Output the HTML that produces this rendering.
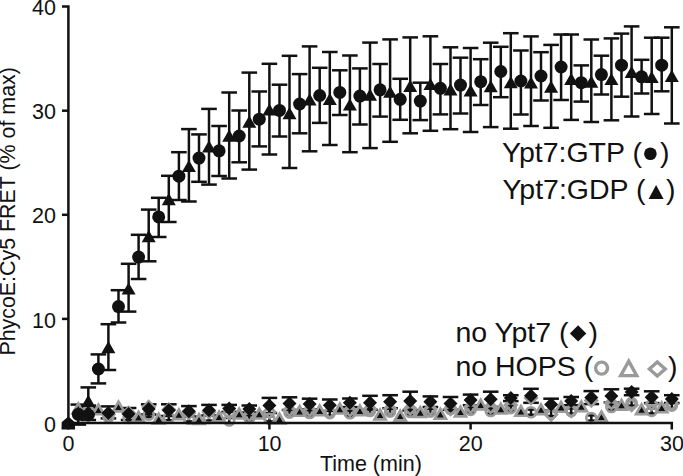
<!DOCTYPE html>
<html><head><meta charset="utf-8"><style>
html,body{margin:0;padding:0;background:#fff;}
svg{display:block;}
text{font-family:"Liberation Sans",sans-serif;fill:#111;}
</style></head><body>
<svg width="683" height="476" viewBox="0 0 683 476">
<rect width="683" height="476" fill="#fff"/>
<g stroke="#111" stroke-width="2.5" stroke-linecap="butt"><line x1="88.3" y1="412.4" x2="88.3" y2="417.6"/><line x1="84.7" y1="412.4" x2="91.9" y2="412.4"/><line x1="84.7" y1="417.6" x2="91.9" y2="417.6"/><line x1="108.4" y1="414.4" x2="108.4" y2="419.6"/><line x1="104.8" y1="414.4" x2="112.0" y2="414.4"/><line x1="104.8" y1="419.6" x2="112.0" y2="419.6"/><line x1="128.6" y1="415.4" x2="128.6" y2="420.6"/><line x1="125.0" y1="415.4" x2="132.2" y2="415.4"/><line x1="125.0" y1="420.6" x2="132.2" y2="420.6"/><line x1="148.7" y1="412.1" x2="148.7" y2="417.3"/><line x1="145.1" y1="412.1" x2="152.3" y2="412.1"/><line x1="145.1" y1="417.3" x2="152.3" y2="417.3"/><line x1="168.8" y1="415.0" x2="168.8" y2="420.2"/><line x1="165.2" y1="415.0" x2="172.4" y2="415.0"/><line x1="165.2" y1="420.2" x2="172.4" y2="420.2"/><line x1="188.9" y1="416.2" x2="188.9" y2="421.4"/><line x1="185.3" y1="416.2" x2="192.5" y2="416.2"/><line x1="185.3" y1="421.4" x2="192.5" y2="421.4"/><line x1="209.0" y1="415.4" x2="209.0" y2="420.6"/><line x1="205.4" y1="415.4" x2="212.6" y2="415.4"/><line x1="205.4" y1="420.6" x2="212.6" y2="420.6"/><line x1="229.2" y1="417.9" x2="229.2" y2="423.1"/><line x1="225.6" y1="417.9" x2="232.8" y2="417.9"/><line x1="225.6" y1="423.1" x2="232.8" y2="423.1"/><line x1="249.3" y1="415.4" x2="249.3" y2="420.6"/><line x1="245.7" y1="415.4" x2="252.9" y2="415.4"/><line x1="245.7" y1="420.6" x2="252.9" y2="420.6"/><line x1="269.4" y1="416.2" x2="269.4" y2="421.4"/><line x1="265.8" y1="416.2" x2="273.0" y2="416.2"/><line x1="265.8" y1="421.4" x2="273.0" y2="421.4"/><line x1="289.5" y1="410.0" x2="289.5" y2="415.2"/><line x1="285.9" y1="410.0" x2="293.1" y2="410.0"/><line x1="285.9" y1="415.2" x2="293.1" y2="415.2"/><line x1="309.6" y1="410.4" x2="309.6" y2="415.6"/><line x1="306.0" y1="410.4" x2="313.2" y2="410.4"/><line x1="306.0" y1="415.6" x2="313.2" y2="415.6"/><line x1="329.8" y1="410.4" x2="329.8" y2="415.6"/><line x1="326.2" y1="410.4" x2="333.4" y2="410.4"/><line x1="326.2" y1="415.6" x2="333.4" y2="415.6"/><line x1="349.9" y1="410.6" x2="349.9" y2="415.8"/><line x1="346.3" y1="410.6" x2="353.5" y2="410.6"/><line x1="346.3" y1="415.8" x2="353.5" y2="415.8"/><line x1="370.0" y1="408.4" x2="370.0" y2="413.6"/><line x1="366.4" y1="408.4" x2="373.6" y2="408.4"/><line x1="366.4" y1="413.6" x2="373.6" y2="413.6"/><line x1="390.1" y1="409.0" x2="390.1" y2="414.2"/><line x1="386.5" y1="409.0" x2="393.7" y2="409.0"/><line x1="386.5" y1="414.2" x2="393.7" y2="414.2"/><line x1="410.2" y1="409.4" x2="410.2" y2="414.6"/><line x1="406.6" y1="409.4" x2="413.8" y2="409.4"/><line x1="406.6" y1="414.6" x2="413.8" y2="414.6"/><line x1="430.4" y1="409.0" x2="430.4" y2="414.2"/><line x1="426.8" y1="409.0" x2="434.0" y2="409.0"/><line x1="426.8" y1="414.2" x2="434.0" y2="414.2"/><line x1="450.5" y1="406.4" x2="450.5" y2="411.6"/><line x1="446.9" y1="406.4" x2="454.1" y2="406.4"/><line x1="446.9" y1="411.6" x2="454.1" y2="411.6"/><line x1="470.6" y1="407.3" x2="470.6" y2="412.5"/><line x1="467.0" y1="407.3" x2="474.2" y2="407.3"/><line x1="467.0" y1="412.5" x2="474.2" y2="412.5"/><line x1="490.7" y1="408.4" x2="490.7" y2="413.6"/><line x1="487.1" y1="408.4" x2="494.3" y2="408.4"/><line x1="487.1" y1="413.6" x2="494.3" y2="413.6"/><line x1="510.8" y1="405.5" x2="510.8" y2="410.7"/><line x1="507.2" y1="405.5" x2="514.4" y2="405.5"/><line x1="507.2" y1="410.7" x2="514.4" y2="410.7"/><line x1="531.0" y1="409.6" x2="531.0" y2="414.8"/><line x1="527.4" y1="409.6" x2="534.6" y2="409.6"/><line x1="527.4" y1="414.8" x2="534.6" y2="414.8"/><line x1="551.1" y1="410.8" x2="551.1" y2="416.0"/><line x1="547.5" y1="410.8" x2="554.7" y2="410.8"/><line x1="547.5" y1="416.0" x2="554.7" y2="416.0"/><line x1="571.2" y1="408.4" x2="571.2" y2="413.6"/><line x1="567.6" y1="408.4" x2="574.8" y2="408.4"/><line x1="567.6" y1="413.6" x2="574.8" y2="413.6"/><line x1="591.3" y1="415.4" x2="591.3" y2="420.6"/><line x1="587.7" y1="415.4" x2="594.9" y2="415.4"/><line x1="587.7" y1="420.6" x2="594.9" y2="420.6"/><line x1="611.4" y1="404.4" x2="611.4" y2="409.6"/><line x1="607.8" y1="404.4" x2="615.0" y2="404.4"/><line x1="607.8" y1="409.6" x2="615.0" y2="409.6"/><line x1="631.6" y1="400.4" x2="631.6" y2="405.6"/><line x1="628.0" y1="400.4" x2="635.2" y2="400.4"/><line x1="628.0" y1="405.6" x2="635.2" y2="405.6"/><line x1="651.7" y1="408.3" x2="651.7" y2="413.5"/><line x1="648.1" y1="408.3" x2="655.3" y2="408.3"/><line x1="648.1" y1="413.5" x2="655.3" y2="413.5"/><line x1="671.8" y1="403.0" x2="671.8" y2="408.2"/><line x1="668.2" y1="403.0" x2="675.4" y2="403.0"/><line x1="668.2" y1="408.2" x2="675.4" y2="408.2"/><polygon fill="#111" stroke="none" points="78.3,405.4 82.7,412.8 73.9,412.8"/><polygon fill="#111" stroke="none" points="98.4,406.5 102.8,413.9 94.0,413.9"/><polygon fill="#111" stroke="none" points="118.5,403.6 122.9,411.0 114.1,411.0"/><polygon fill="#111" stroke="none" points="138.6,413.9 143.0,421.3 134.2,421.3"/><polygon fill="#111" stroke="none" points="158.7,415.6 163.1,423.0 154.3,423.0"/><polygon fill="#111" stroke="none" points="178.9,411.3 183.3,418.7 174.5,418.7"/><polygon fill="#111" stroke="none" points="199.0,416.1 203.4,423.5 194.6,423.5"/><polygon fill="#111" stroke="none" points="219.1,413.6 223.5,421.0 214.7,421.0"/><polygon fill="#111" stroke="none" points="239.2,410.7 243.6,418.1 234.8,418.1"/><polygon fill="#111" stroke="none" points="259.3,410.7 263.7,418.1 254.9,418.1"/><polygon fill="#111" stroke="none" points="279.5,415.6 283.9,423.0 275.1,423.0"/><polygon fill="#111" stroke="none" points="299.6,408.0 304.0,415.4 295.2,415.4"/><polygon fill="#111" stroke="none" points="319.7,407.4 324.1,414.8 315.3,414.8"/><polygon fill="#111" stroke="none" points="339.8,405.7 344.2,413.1 335.4,413.1"/><polygon fill="#111" stroke="none" points="359.9,407.4 364.3,414.8 355.5,414.8"/><polygon fill="#111" stroke="none" points="380.1,411.6 384.5,419.0 375.7,419.0"/><polygon fill="#111" stroke="none" points="400.2,412.6 404.6,420.0 395.8,420.0"/><polygon fill="#111" stroke="none" points="420.3,409.2 424.7,416.6 415.9,416.6"/><polygon fill="#111" stroke="none" points="440.4,410.9 444.8,418.3 436.0,418.3"/><polygon fill="#111" stroke="none" points="460.5,408.6 464.9,416.0 456.1,416.0"/><polygon fill="#111" stroke="none" points="480.7,401.6 485.1,409.0 476.3,409.0"/><polygon fill="#111" stroke="none" points="500.8,405.7 505.2,413.1 496.4,413.1"/><polygon fill="#111" stroke="none" points="520.9,408.0 525.3,415.4 516.5,415.4"/><polygon fill="#111" stroke="none" points="541.0,406.3 545.4,413.7 536.6,413.7"/><polygon fill="#111" stroke="none" points="561.1,403.9 565.5,411.3 556.7,411.3"/><polygon fill="#111" stroke="none" points="581.3,403.3 585.7,410.7 576.9,410.7"/><polygon fill="#111" stroke="none" points="601.4,413.5 605.8,420.9 597.0,420.9"/><polygon fill="#111" stroke="none" points="621.5,401.8 625.9,409.2 617.1,409.2"/><polygon fill="#111" stroke="none" points="641.6,406.3 646.0,413.7 637.2,413.7"/><polygon fill="#111" stroke="none" points="661.7,404.4 666.1,411.8 657.3,411.8"/><line x1="88.3" y1="408.0" x2="88.3" y2="420.0"/><line x1="80.5" y1="408.0" x2="96.1" y2="408.0"/><line x1="80.5" y1="420.0" x2="96.1" y2="420.0"/><line x1="108.4" y1="406.4" x2="108.4" y2="418.4"/><line x1="100.6" y1="406.4" x2="116.2" y2="406.4"/><line x1="100.6" y1="418.4" x2="116.2" y2="418.4"/><line x1="128.6" y1="408.0" x2="128.6" y2="420.0"/><line x1="120.8" y1="408.0" x2="136.4" y2="408.0"/><line x1="120.8" y1="420.0" x2="136.4" y2="420.0"/><line x1="148.7" y1="404.3" x2="148.7" y2="414.5"/><line x1="140.9" y1="404.3" x2="156.5" y2="404.3"/><line x1="140.9" y1="414.5" x2="156.5" y2="414.5"/><line x1="168.8" y1="404.3" x2="168.8" y2="416.0"/><line x1="161.0" y1="404.3" x2="176.6" y2="404.3"/><line x1="161.0" y1="416.0" x2="176.6" y2="416.0"/><line x1="188.9" y1="406.1" x2="188.9" y2="416.5"/><line x1="181.1" y1="406.1" x2="196.7" y2="406.1"/><line x1="181.1" y1="416.5" x2="196.7" y2="416.5"/><line x1="209.0" y1="404.9" x2="209.0" y2="415.5"/><line x1="201.2" y1="404.9" x2="216.8" y2="404.9"/><line x1="201.2" y1="415.5" x2="216.8" y2="415.5"/><line x1="229.2" y1="404.9" x2="229.2" y2="411.9"/><line x1="221.4" y1="404.9" x2="237.0" y2="404.9"/><line x1="221.4" y1="411.9" x2="237.0" y2="411.9"/><line x1="249.3" y1="405.5" x2="249.3" y2="412.5"/><line x1="241.5" y1="405.5" x2="257.1" y2="405.5"/><line x1="241.5" y1="412.5" x2="257.1" y2="412.5"/><line x1="269.4" y1="397.9" x2="269.4" y2="413.0"/><line x1="261.6" y1="397.9" x2="277.2" y2="397.9"/><line x1="261.6" y1="413.0" x2="277.2" y2="413.0"/><line x1="289.5" y1="397.3" x2="289.5" y2="410.0"/><line x1="281.7" y1="397.3" x2="297.3" y2="397.3"/><line x1="281.7" y1="410.0" x2="297.3" y2="410.0"/><line x1="309.6" y1="398.7" x2="309.6" y2="409.3"/><line x1="301.8" y1="398.7" x2="317.4" y2="398.7"/><line x1="301.8" y1="409.3" x2="317.4" y2="409.3"/><line x1="329.8" y1="399.5" x2="329.8" y2="411.0"/><line x1="322.0" y1="399.5" x2="337.6" y2="399.5"/><line x1="322.0" y1="411.0" x2="337.6" y2="411.0"/><line x1="349.9" y1="398.5" x2="349.9" y2="407.1"/><line x1="342.1" y1="398.5" x2="357.7" y2="398.5"/><line x1="342.1" y1="407.1" x2="357.7" y2="407.1"/><line x1="370.0" y1="395.8" x2="370.0" y2="409.8"/><line x1="362.2" y1="395.8" x2="377.8" y2="395.8"/><line x1="362.2" y1="409.8" x2="377.8" y2="409.8"/><line x1="390.1" y1="395.2" x2="390.1" y2="408.2"/><line x1="382.3" y1="395.2" x2="397.9" y2="395.2"/><line x1="382.3" y1="408.2" x2="397.9" y2="408.2"/><line x1="410.2" y1="391.7" x2="410.2" y2="410.5"/><line x1="402.4" y1="391.7" x2="418.0" y2="391.7"/><line x1="402.4" y1="410.5" x2="418.0" y2="410.5"/><line x1="430.4" y1="396.4" x2="430.4" y2="407.0"/><line x1="422.6" y1="396.4" x2="438.2" y2="396.4"/><line x1="422.6" y1="407.0" x2="438.2" y2="407.0"/><line x1="450.5" y1="397.0" x2="450.5" y2="409.8"/><line x1="442.7" y1="397.0" x2="458.3" y2="397.0"/><line x1="442.7" y1="409.8" x2="458.3" y2="409.8"/><line x1="470.6" y1="394.6" x2="470.6" y2="405.2"/><line x1="462.8" y1="394.6" x2="478.4" y2="394.6"/><line x1="462.8" y1="405.2" x2="478.4" y2="405.2"/><line x1="490.7" y1="391.7" x2="490.7" y2="406.9"/><line x1="482.9" y1="391.7" x2="498.5" y2="391.7"/><line x1="482.9" y1="406.9" x2="498.5" y2="406.9"/><line x1="510.8" y1="395.2" x2="510.8" y2="401.1"/><line x1="503.0" y1="395.2" x2="518.6" y2="395.2"/><line x1="503.0" y1="401.1" x2="518.6" y2="401.1"/><line x1="531.0" y1="388.8" x2="531.0" y2="402.8"/><line x1="523.2" y1="388.8" x2="538.8" y2="388.8"/><line x1="523.2" y1="402.8" x2="538.8" y2="402.8"/><line x1="551.1" y1="398.7" x2="551.1" y2="410.5"/><line x1="543.3" y1="398.7" x2="558.9" y2="398.7"/><line x1="543.3" y1="410.5" x2="558.9" y2="410.5"/><line x1="571.2" y1="397.0" x2="571.2" y2="405.2"/><line x1="563.4" y1="397.0" x2="579.0" y2="397.0"/><line x1="563.4" y1="405.2" x2="579.0" y2="405.2"/><line x1="591.3" y1="391.1" x2="591.3" y2="404.1"/><line x1="583.5" y1="391.1" x2="599.1" y2="391.1"/><line x1="583.5" y1="404.1" x2="599.1" y2="404.1"/><line x1="611.4" y1="389.3" x2="611.4" y2="402.5"/><line x1="603.6" y1="389.3" x2="619.2" y2="389.3"/><line x1="603.6" y1="402.5" x2="619.2" y2="402.5"/><line x1="631.6" y1="388.7" x2="631.6" y2="395.2"/><line x1="623.8" y1="388.7" x2="639.4" y2="388.7"/><line x1="623.8" y1="395.2" x2="639.4" y2="395.2"/><line x1="651.7" y1="391.3" x2="651.7" y2="403.1"/><line x1="643.9" y1="391.3" x2="659.5" y2="391.3"/><line x1="643.9" y1="403.1" x2="659.5" y2="403.1"/><line x1="671.8" y1="395.2" x2="671.8" y2="403.0"/><line x1="664.0" y1="395.2" x2="679.6" y2="395.2"/><line x1="664.0" y1="403.0" x2="679.6" y2="403.0"/><line x1="78.3" y1="404.6" x2="78.3" y2="424.6"/><line x1="70.5" y1="404.6" x2="86.1" y2="404.6"/><line x1="70.5" y1="424.6" x2="86.1" y2="424.6"/><line x1="98.4" y1="354.4" x2="98.4" y2="383.4"/><line x1="90.6" y1="354.4" x2="106.2" y2="354.4"/><line x1="90.6" y1="383.4" x2="106.2" y2="383.4"/><line x1="118.5" y1="290.2" x2="118.5" y2="322.5"/><line x1="110.7" y1="290.2" x2="126.3" y2="290.2"/><line x1="110.7" y1="322.5" x2="126.3" y2="322.5"/><line x1="138.6" y1="234.8" x2="138.6" y2="279.0"/><line x1="130.8" y1="234.8" x2="146.4" y2="234.8"/><line x1="130.8" y1="279.0" x2="146.4" y2="279.0"/><line x1="158.7" y1="197.8" x2="158.7" y2="237.0"/><line x1="150.9" y1="197.8" x2="166.5" y2="197.8"/><line x1="150.9" y1="237.0" x2="166.5" y2="237.0"/><line x1="178.9" y1="152.2" x2="178.9" y2="200.0"/><line x1="171.1" y1="152.2" x2="186.7" y2="152.2"/><line x1="171.1" y1="200.0" x2="186.7" y2="200.0"/><line x1="199.0" y1="134.4" x2="199.0" y2="181.8"/><line x1="191.2" y1="134.4" x2="206.8" y2="134.4"/><line x1="191.2" y1="181.8" x2="206.8" y2="181.8"/><line x1="219.1" y1="126.0" x2="219.1" y2="176.0"/><line x1="211.3" y1="126.0" x2="226.9" y2="126.0"/><line x1="211.3" y1="176.0" x2="226.9" y2="176.0"/><line x1="239.2" y1="110.5" x2="239.2" y2="162.3"/><line x1="231.4" y1="110.5" x2="247.0" y2="110.5"/><line x1="231.4" y1="162.3" x2="247.0" y2="162.3"/><line x1="259.3" y1="91.5" x2="259.3" y2="146.4"/><line x1="251.5" y1="91.5" x2="267.1" y2="91.5"/><line x1="251.5" y1="146.4" x2="267.1" y2="146.4"/><line x1="279.5" y1="84.7" x2="279.5" y2="136.5"/><line x1="271.7" y1="84.7" x2="287.3" y2="84.7"/><line x1="271.7" y1="136.5" x2="287.3" y2="136.5"/><line x1="299.6" y1="74.1" x2="299.6" y2="133.3"/><line x1="291.8" y1="74.1" x2="307.4" y2="74.1"/><line x1="291.8" y1="133.3" x2="307.4" y2="133.3"/><line x1="319.7" y1="67.8" x2="319.7" y2="122.9"/><line x1="311.9" y1="67.8" x2="327.5" y2="67.8"/><line x1="311.9" y1="122.9" x2="327.5" y2="122.9"/><line x1="339.8" y1="70.3" x2="339.8" y2="115.0"/><line x1="332.0" y1="70.3" x2="347.6" y2="70.3"/><line x1="332.0" y1="115.0" x2="347.6" y2="115.0"/><line x1="359.9" y1="68.4" x2="359.9" y2="124.5"/><line x1="352.1" y1="68.4" x2="367.7" y2="68.4"/><line x1="352.1" y1="124.5" x2="367.7" y2="124.5"/><line x1="380.1" y1="64.0" x2="380.1" y2="116.6"/><line x1="372.3" y1="64.0" x2="387.9" y2="64.0"/><line x1="372.3" y1="116.6" x2="387.9" y2="116.6"/><line x1="400.2" y1="78.8" x2="400.2" y2="119.8"/><line x1="392.4" y1="78.8" x2="408.0" y2="78.8"/><line x1="392.4" y1="119.8" x2="408.0" y2="119.8"/><line x1="420.3" y1="82.7" x2="420.3" y2="120.1"/><line x1="412.5" y1="82.7" x2="428.1" y2="82.7"/><line x1="412.5" y1="120.1" x2="428.1" y2="120.1"/><line x1="440.4" y1="64.0" x2="440.4" y2="114.4"/><line x1="432.6" y1="64.0" x2="448.2" y2="64.0"/><line x1="432.6" y1="114.4" x2="448.2" y2="114.4"/><line x1="460.5" y1="57.7" x2="460.5" y2="113.5"/><line x1="452.7" y1="57.7" x2="468.3" y2="57.7"/><line x1="452.7" y1="113.5" x2="468.3" y2="113.5"/><line x1="480.7" y1="59.2" x2="480.7" y2="105.0"/><line x1="472.9" y1="59.2" x2="488.5" y2="59.2"/><line x1="472.9" y1="105.0" x2="488.5" y2="105.0"/><line x1="500.8" y1="46.8" x2="500.8" y2="97.2"/><line x1="493.0" y1="46.8" x2="508.6" y2="46.8"/><line x1="493.0" y1="97.2" x2="508.6" y2="97.2"/><line x1="520.9" y1="50.5" x2="520.9" y2="114.5"/><line x1="513.1" y1="50.5" x2="528.7" y2="50.5"/><line x1="513.1" y1="114.5" x2="528.7" y2="114.5"/><line x1="541.0" y1="52.2" x2="541.0" y2="100.5"/><line x1="533.2" y1="52.2" x2="548.8" y2="52.2"/><line x1="533.2" y1="100.5" x2="548.8" y2="100.5"/><line x1="561.1" y1="34.5" x2="561.1" y2="100.0"/><line x1="553.3" y1="34.5" x2="568.9" y2="34.5"/><line x1="553.3" y1="100.0" x2="568.9" y2="100.0"/><line x1="581.3" y1="65.4" x2="581.3" y2="101.6"/><line x1="573.5" y1="65.4" x2="589.1" y2="65.4"/><line x1="573.5" y1="101.6" x2="589.1" y2="101.6"/><line x1="601.4" y1="55.7" x2="601.4" y2="94.5"/><line x1="593.6" y1="55.7" x2="609.2" y2="55.7"/><line x1="593.6" y1="94.5" x2="609.2" y2="94.5"/><line x1="621.5" y1="33.6" x2="621.5" y2="96.7"/><line x1="613.7" y1="33.6" x2="629.3" y2="33.6"/><line x1="613.7" y1="96.7" x2="629.3" y2="96.7"/><line x1="641.6" y1="59.8" x2="641.6" y2="93.5"/><line x1="633.8" y1="59.8" x2="649.4" y2="59.8"/><line x1="633.8" y1="93.5" x2="649.4" y2="93.5"/><line x1="661.7" y1="37.7" x2="661.7" y2="91.3"/><line x1="653.9" y1="37.7" x2="669.5" y2="37.7"/><line x1="653.9" y1="91.3" x2="669.5" y2="91.3"/><line x1="88.3" y1="387.4" x2="88.3" y2="405.6"/><line x1="80.5" y1="387.4" x2="96.1" y2="387.4"/><line x1="80.5" y1="405.6" x2="96.1" y2="405.6"/><line x1="108.4" y1="324.2" x2="108.4" y2="370.0"/><line x1="100.6" y1="324.2" x2="116.2" y2="324.2"/><line x1="100.6" y1="370.0" x2="116.2" y2="370.0"/><line x1="128.6" y1="263.8" x2="128.6" y2="311.6"/><line x1="120.8" y1="263.8" x2="136.4" y2="263.8"/><line x1="120.8" y1="311.6" x2="136.4" y2="311.6"/><line x1="148.7" y1="209.6" x2="148.7" y2="261.3"/><line x1="140.9" y1="209.6" x2="156.5" y2="209.6"/><line x1="140.9" y1="261.3" x2="156.5" y2="261.3"/><line x1="168.8" y1="175.8" x2="168.8" y2="222.0"/><line x1="161.0" y1="175.8" x2="176.6" y2="175.8"/><line x1="161.0" y1="222.0" x2="176.6" y2="222.0"/><line x1="188.9" y1="129.1" x2="188.9" y2="201.5"/><line x1="181.1" y1="129.1" x2="196.7" y2="129.1"/><line x1="181.1" y1="201.5" x2="196.7" y2="201.5"/><line x1="209.0" y1="108.9" x2="209.0" y2="184.6"/><line x1="201.2" y1="108.9" x2="216.8" y2="108.9"/><line x1="201.2" y1="184.6" x2="216.8" y2="184.6"/><line x1="229.2" y1="92.5" x2="229.2" y2="178.5"/><line x1="221.4" y1="92.5" x2="237.0" y2="92.5"/><line x1="221.4" y1="178.5" x2="237.0" y2="178.5"/><line x1="249.3" y1="72.6" x2="249.3" y2="169.6"/><line x1="241.5" y1="72.6" x2="257.1" y2="72.6"/><line x1="241.5" y1="169.6" x2="257.1" y2="169.6"/><line x1="269.4" y1="63.8" x2="269.4" y2="154.5"/><line x1="261.6" y1="63.8" x2="277.2" y2="63.8"/><line x1="261.6" y1="154.5" x2="277.2" y2="154.5"/><line x1="289.5" y1="55.8" x2="289.5" y2="168.0"/><line x1="281.7" y1="55.8" x2="297.3" y2="55.8"/><line x1="281.7" y1="168.0" x2="297.3" y2="168.0"/><line x1="309.6" y1="46.4" x2="309.6" y2="151.3"/><line x1="301.8" y1="46.4" x2="317.4" y2="46.4"/><line x1="301.8" y1="151.3" x2="317.4" y2="151.3"/><line x1="329.8" y1="52.0" x2="329.8" y2="145.0"/><line x1="322.0" y1="52.0" x2="337.6" y2="52.0"/><line x1="322.0" y1="145.0" x2="337.6" y2="145.0"/><line x1="349.9" y1="55.5" x2="349.9" y2="152.2"/><line x1="342.1" y1="55.5" x2="357.7" y2="55.5"/><line x1="342.1" y1="152.2" x2="357.7" y2="152.2"/><line x1="370.0" y1="42.6" x2="370.0" y2="148.1"/><line x1="362.2" y1="42.6" x2="377.8" y2="42.6"/><line x1="362.2" y1="148.1" x2="377.8" y2="148.1"/><line x1="390.1" y1="39.4" x2="390.1" y2="141.8"/><line x1="382.3" y1="39.4" x2="397.9" y2="39.4"/><line x1="382.3" y1="141.8" x2="397.9" y2="141.8"/><line x1="410.2" y1="37.4" x2="410.2" y2="133.3"/><line x1="402.4" y1="37.4" x2="418.0" y2="37.4"/><line x1="402.4" y1="133.3" x2="418.0" y2="133.3"/><line x1="430.4" y1="36.3" x2="430.4" y2="130.8"/><line x1="422.6" y1="36.3" x2="438.2" y2="36.3"/><line x1="422.6" y1="130.8" x2="438.2" y2="130.8"/><line x1="450.5" y1="47.3" x2="450.5" y2="129.2"/><line x1="442.7" y1="47.3" x2="458.3" y2="47.3"/><line x1="442.7" y1="129.2" x2="458.3" y2="129.2"/><line x1="470.6" y1="48.0" x2="470.6" y2="132.0"/><line x1="462.8" y1="48.0" x2="478.4" y2="48.0"/><line x1="462.8" y1="132.0" x2="478.4" y2="132.0"/><line x1="490.7" y1="42.7" x2="490.7" y2="127.1"/><line x1="482.9" y1="42.7" x2="498.5" y2="42.7"/><line x1="482.9" y1="127.1" x2="498.5" y2="127.1"/><line x1="510.8" y1="33.2" x2="510.8" y2="128.7"/><line x1="503.0" y1="33.2" x2="518.6" y2="33.2"/><line x1="503.0" y1="128.7" x2="518.6" y2="128.7"/><line x1="531.0" y1="36.4" x2="531.0" y2="126.0"/><line x1="523.2" y1="36.4" x2="538.8" y2="36.4"/><line x1="523.2" y1="126.0" x2="538.8" y2="126.0"/><line x1="551.1" y1="44.9" x2="551.1" y2="127.8"/><line x1="543.3" y1="44.9" x2="558.9" y2="44.9"/><line x1="543.3" y1="127.8" x2="558.9" y2="127.8"/><line x1="571.2" y1="34.5" x2="571.2" y2="119.9"/><line x1="563.4" y1="34.5" x2="579.0" y2="34.5"/><line x1="563.4" y1="119.9" x2="579.0" y2="119.9"/><line x1="591.3" y1="39.5" x2="591.3" y2="122.0"/><line x1="583.5" y1="39.5" x2="599.1" y2="39.5"/><line x1="583.5" y1="122.0" x2="599.1" y2="122.0"/><line x1="611.4" y1="38.4" x2="611.4" y2="120.3"/><line x1="603.6" y1="38.4" x2="619.2" y2="38.4"/><line x1="603.6" y1="120.3" x2="619.2" y2="120.3"/><line x1="631.6" y1="26.4" x2="631.6" y2="116.5"/><line x1="623.8" y1="26.4" x2="639.4" y2="26.4"/><line x1="623.8" y1="116.5" x2="639.4" y2="116.5"/><line x1="651.7" y1="37.7" x2="651.7" y2="114.0"/><line x1="643.9" y1="37.7" x2="659.5" y2="37.7"/><line x1="643.9" y1="114.0" x2="659.5" y2="114.0"/><line x1="671.8" y1="27.3" x2="671.8" y2="123.5"/><line x1="664.0" y1="27.3" x2="679.6" y2="27.3"/><line x1="664.0" y1="123.5" x2="679.6" y2="123.5"/></g>
<g fill="none" stroke="#9a9a9a" stroke-width="2.6"><circle cx="88.3" cy="415.0" r="5.0"/><circle cx="108.4" cy="417.0" r="5.0"/><circle cx="128.6" cy="418.0" r="5.0"/><circle cx="148.7" cy="414.7" r="5.0"/><circle cx="168.8" cy="417.6" r="5.0"/><circle cx="188.9" cy="418.8" r="5.0"/><circle cx="209.0" cy="418.0" r="5.0"/><circle cx="229.2" cy="420.5" r="5.0"/><circle cx="249.3" cy="418.0" r="5.0"/><circle cx="269.4" cy="418.8" r="5.0"/><circle cx="289.5" cy="412.6" r="5.0"/><circle cx="309.6" cy="413.0" r="5.0"/><circle cx="329.8" cy="413.0" r="5.0"/><circle cx="349.9" cy="413.2" r="5.0"/><circle cx="370.0" cy="411.0" r="5.0"/><circle cx="390.1" cy="411.6" r="5.0"/><circle cx="410.2" cy="412.0" r="5.0"/><circle cx="430.4" cy="411.6" r="5.0"/><circle cx="450.5" cy="409.0" r="5.0"/><circle cx="470.6" cy="409.9" r="5.0"/><circle cx="490.7" cy="411.0" r="5.0"/><circle cx="510.8" cy="408.1" r="5.0"/><circle cx="531.0" cy="412.2" r="5.0"/><circle cx="551.1" cy="413.4" r="5.0"/><circle cx="571.2" cy="411.0" r="5.0"/><circle cx="591.3" cy="418.0" r="5.0"/><circle cx="611.4" cy="407.0" r="5.0"/><circle cx="631.6" cy="403.0" r="5.0"/><circle cx="651.7" cy="410.9" r="5.0"/><circle cx="671.8" cy="405.6" r="5.0"/><polygon points="78.3,403.4 83.9,413.2 72.7,413.2"/><polygon points="98.4,404.5 104.0,414.3 92.8,414.3"/><polygon points="118.5,401.6 124.1,411.4 112.9,411.4"/><polygon points="138.6,411.9 144.2,421.7 133.0,421.7"/><polygon points="158.7,413.6 164.3,423.4 153.1,423.4"/><polygon points="178.9,409.3 184.5,419.1 173.3,419.1"/><polygon points="199.0,414.1 204.6,423.9 193.4,423.9"/><polygon points="219.1,411.6 224.7,421.4 213.5,421.4"/><polygon points="239.2,408.7 244.8,418.5 233.6,418.5"/><polygon points="259.3,408.7 264.9,418.5 253.7,418.5"/><polygon points="279.5,413.6 285.1,423.4 273.9,423.4"/><polygon points="299.6,406.0 305.2,415.8 294.0,415.8"/><polygon points="319.7,405.4 325.3,415.2 314.1,415.2"/><polygon points="339.8,403.7 345.4,413.5 334.2,413.5"/><polygon points="359.9,405.4 365.5,415.2 354.3,415.2"/><polygon points="380.1,409.6 385.7,419.4 374.5,419.4"/><polygon points="400.2,410.6 405.8,420.4 394.6,420.4"/><polygon points="420.3,407.2 425.9,417.0 414.7,417.0"/><polygon points="440.4,408.9 446.0,418.7 434.8,418.7"/><polygon points="460.5,406.6 466.1,416.4 454.9,416.4"/><polygon points="480.7,399.6 486.3,409.4 475.1,409.4"/><polygon points="500.8,403.7 506.4,413.5 495.2,413.5"/><polygon points="520.9,406.0 526.5,415.8 515.3,415.8"/><polygon points="541.0,404.3 546.6,414.1 535.4,414.1"/><polygon points="561.1,401.9 566.7,411.7 555.5,411.7"/><polygon points="581.3,401.3 586.9,411.1 575.7,411.1"/><polygon points="601.4,411.5 607.0,421.3 595.8,421.3"/><polygon points="621.5,399.8 627.1,409.6 615.9,409.6"/><polygon points="641.6,404.3 647.2,414.1 636.0,414.1"/><polygon points="661.7,402.4 667.3,412.2 656.1,412.2"/><polygon points="88.3,404.2 94.1,410.0 88.3,415.8 82.5,410.0"/><polygon points="108.4,408.7 114.2,414.5 108.4,420.3 102.6,414.5"/><polygon points="128.6,407.2 134.4,413.0 128.6,418.8 122.8,413.0"/><polygon points="148.7,401.2 154.5,407.0 148.7,412.8 142.9,407.0"/><polygon points="168.8,403.8 174.6,409.6 168.8,415.4 163.0,409.6"/><polygon points="188.9,407.2 194.7,413.0 188.9,418.8 183.1,413.0"/><polygon points="209.0,406.2 214.8,412.0 209.0,417.8 203.2,412.0"/><polygon points="229.2,407.2 235.0,413.0 229.2,418.8 223.4,413.0"/><polygon points="249.3,409.2 255.1,415.0 249.3,420.8 243.5,415.0"/><polygon points="269.4,406.2 275.2,412.0 269.4,417.8 263.6,412.0"/><polygon points="289.5,404.2 295.3,410.0 289.5,415.8 283.7,410.0"/><polygon points="309.6,404.2 315.4,410.0 309.6,415.8 303.8,410.0"/><polygon points="329.8,406.4 335.6,412.2 329.8,418.0 324.0,412.2"/><polygon points="349.9,404.2 355.7,410.0 349.9,415.8 344.1,410.0"/><polygon points="370.0,403.2 375.8,409.0 370.0,414.8 364.2,409.0"/><polygon points="390.1,403.2 395.9,409.0 390.1,414.8 384.3,409.0"/><polygon points="410.2,402.9 416.0,408.7 410.2,414.5 404.4,408.7"/><polygon points="430.4,403.2 436.2,409.0 430.4,414.8 424.6,409.0"/><polygon points="450.5,403.2 456.3,409.0 450.5,414.8 444.7,409.0"/><polygon points="470.6,401.2 476.4,407.0 470.6,412.8 464.8,407.0"/><polygon points="490.7,401.2 496.5,407.0 490.7,412.8 484.9,407.0"/><polygon points="510.8,399.2 516.6,405.0 510.8,410.8 505.0,405.0"/><polygon points="531.0,392.2 536.8,398.0 531.0,403.8 525.2,398.0"/><polygon points="551.1,408.8 556.9,414.6 551.1,420.4 545.3,414.6"/><polygon points="571.2,405.2 577.0,411.0 571.2,416.8 565.4,411.0"/><polygon points="591.3,394.7 597.1,400.5 591.3,406.3 585.5,400.5"/><polygon points="611.4,397.2 617.2,403.0 611.4,408.8 605.6,403.0"/><polygon points="631.6,399.2 637.4,405.0 631.6,410.8 625.8,405.0"/><polygon points="651.7,398.2 657.5,404.0 651.7,409.8 645.9,404.0"/><polygon points="671.8,398.2 677.6,404.0 671.8,409.8 666.0,404.0"/></g>
<g fill="#111"><polygon points="88.3,407.0 95.3,414.0 88.3,421.0 81.3,414.0"/><polygon points="108.4,406.0 115.4,413.0 108.4,420.0 101.4,413.0"/><polygon points="128.6,407.0 135.6,414.0 128.6,421.0 121.6,414.0"/><polygon points="148.7,402.0 155.7,409.0 148.7,416.0 141.7,409.0"/><polygon points="168.8,403.2 175.8,410.2 168.8,417.2 161.8,410.2"/><polygon points="188.9,404.3 195.9,411.3 188.9,418.3 181.9,411.3"/><polygon points="209.0,403.2 216.0,410.2 209.0,417.2 202.0,410.2"/><polygon points="229.2,401.4 236.2,408.4 229.2,415.4 222.2,408.4"/><polygon points="249.3,402.0 256.3,409.0 249.3,416.0 242.3,409.0"/><polygon points="269.4,398.5 276.4,405.5 269.4,412.5 262.4,405.5"/><polygon points="289.5,396.6 296.5,403.6 289.5,410.6 282.5,403.6"/><polygon points="309.6,397.0 316.6,404.0 309.6,411.0 302.6,404.0"/><polygon points="329.8,398.2 336.8,405.2 329.8,412.2 322.8,405.2"/><polygon points="349.9,395.8 356.9,402.8 349.9,409.8 342.9,402.8"/><polygon points="370.0,395.8 377.0,402.8 370.0,409.8 363.0,402.8"/><polygon points="390.1,394.7 397.1,401.7 390.1,408.7 383.1,401.7"/><polygon points="410.2,394.1 417.2,401.1 410.2,408.1 403.2,401.1"/><polygon points="430.4,394.7 437.4,401.7 430.4,408.7 423.4,401.7"/><polygon points="450.5,396.4 457.5,403.4 450.5,410.4 443.5,403.4"/><polygon points="470.6,392.9 477.6,399.9 470.6,406.9 463.6,399.9"/><polygon points="490.7,392.3 497.7,399.3 490.7,406.3 483.7,399.3"/><polygon points="510.8,391.1 517.8,398.1 510.8,405.1 503.8,398.1"/><polygon points="531.0,388.8 538.0,395.8 531.0,402.8 524.0,395.8"/><polygon points="551.1,397.6 558.1,404.6 551.1,411.6 544.1,404.6"/><polygon points="571.2,394.1 578.2,401.1 571.2,408.1 564.2,401.1"/><polygon points="591.3,390.6 598.3,397.6 591.3,404.6 584.3,397.6"/><polygon points="611.4,388.9 618.4,395.9 611.4,402.9 604.4,395.9"/><polygon points="631.6,385.0 638.6,392.0 631.6,399.0 624.6,392.0"/><polygon points="651.7,390.2 658.7,397.2 651.7,404.2 644.7,397.2"/><polygon points="671.8,392.1 678.8,399.1 671.8,406.1 664.8,399.1"/><circle cx="78.3" cy="414.3" r="6.5"/><circle cx="88.3" cy="415.0" r="6.5"/><circle cx="98.4" cy="369.0" r="6.5"/><circle cx="118.5" cy="306.6" r="6.5"/><circle cx="138.6" cy="257.1" r="6.5"/><circle cx="158.7" cy="216.9" r="6.5"/><circle cx="178.9" cy="176.2" r="6.5"/><circle cx="199.0" cy="158.1" r="6.5"/><circle cx="219.1" cy="150.8" r="6.5"/><circle cx="239.2" cy="136.0" r="6.5"/><circle cx="259.3" cy="119.2" r="6.5"/><circle cx="279.5" cy="110.4" r="6.5"/><circle cx="299.6" cy="104.0" r="6.5"/><circle cx="319.7" cy="95.5" r="6.5"/><circle cx="339.8" cy="92.4" r="6.5"/><circle cx="359.9" cy="96.1" r="6.5"/><circle cx="380.1" cy="89.8" r="6.5"/><circle cx="400.2" cy="99.3" r="6.5"/><circle cx="420.3" cy="101.1" r="6.5"/><circle cx="440.4" cy="88.3" r="6.5"/><circle cx="460.5" cy="85.1" r="6.5"/><circle cx="480.7" cy="81.7" r="6.5"/><circle cx="500.8" cy="71.5" r="6.5"/><circle cx="520.9" cy="81.0" r="6.5"/><circle cx="541.0" cy="76.0" r="6.5"/><circle cx="561.1" cy="67.0" r="6.5"/><circle cx="581.3" cy="82.7" r="6.5"/><circle cx="601.4" cy="74.6" r="6.5"/><circle cx="621.5" cy="65.2" r="6.5"/><circle cx="641.6" cy="76.8" r="6.5"/><circle cx="661.7" cy="65.2" r="6.5"/><polygon points="88.3,394.7 95.3,406.9 81.3,406.9"/><polygon points="108.4,341.0 115.4,353.2 101.4,353.2"/><polygon points="128.6,282.4 135.6,294.6 121.6,294.6"/><polygon points="148.7,230.0 155.7,242.2 141.7,242.2"/><polygon points="168.8,193.1 175.8,205.2 161.8,205.2"/><polygon points="188.9,159.9 195.9,172.1 181.9,172.1"/><polygon points="209.0,140.3 216.0,152.5 202.0,152.5"/><polygon points="229.2,129.5 236.2,141.7 222.2,141.7"/><polygon points="249.3,115.6 256.3,127.8 242.3,127.8"/><polygon points="269.4,103.4 276.4,115.5 262.4,115.5"/><polygon points="289.5,107.0 296.5,119.2 282.5,119.2"/><polygon points="309.6,93.2 316.6,105.4 302.6,105.4"/><polygon points="329.8,92.9 336.8,105.1 322.8,105.1"/><polygon points="349.9,98.4 356.9,110.6 342.9,110.6"/><polygon points="370.0,88.5 377.0,100.7 363.0,100.7"/><polygon points="390.1,85.7 397.1,97.8 383.1,97.8"/><polygon points="410.2,79.8 417.2,92.0 403.2,92.0"/><polygon points="430.4,77.9 437.4,90.1 423.4,90.1"/><polygon points="450.5,83.3 457.5,95.5 443.5,95.5"/><polygon points="470.6,84.3 477.6,96.5 463.6,96.5"/><polygon points="490.7,80.1 497.7,92.2 483.7,92.2"/><polygon points="510.8,76.1 517.8,88.3 503.8,88.3"/><polygon points="531.0,76.5 538.0,88.6 524.0,88.6"/><polygon points="551.1,80.6 558.1,92.8 544.1,92.8"/><polygon points="571.2,72.7 578.2,84.9 564.2,84.9"/><polygon points="591.3,75.6 598.3,87.8 584.3,87.8"/><polygon points="611.4,72.9 618.4,85.1 604.4,85.1"/><polygon points="631.6,65.8 638.6,78.0 624.6,78.0"/><polygon points="651.7,70.9 658.7,83.1 644.7,83.1"/><polygon points="671.8,69.8 678.8,82.0 664.8,82.0"/><polygon points="68.3,416.6 74.9,422.2 75.1,429.4 61.5,429.4 61.7,422.2"/></g>
<g stroke="#111" stroke-width="2.5" fill="none"><path d="M62,6.6 H68.4 V423 H671.8 V429.5" fill="none"/><line x1="62" y1="318.9" x2="68.4" y2="318.9"/><line x1="62" y1="214.8" x2="68.4" y2="214.8"/><line x1="62" y1="110.7" x2="68.4" y2="110.7"/><line x1="62" y1="423" x2="68.4" y2="423"/><line x1="68.2" y1="423" x2="68.2" y2="429.5"/><line x1="269.4" y1="423" x2="269.4" y2="429.5"/><line x1="470.6" y1="423" x2="470.6" y2="429.5"/></g>
<g><text x="56" y="431.6" text-anchor="end" font-size="21.5">0</text><text x="56" y="327.5" text-anchor="end" font-size="21.5">10</text><text x="56" y="223.4" text-anchor="end" font-size="21.5">20</text><text x="56" y="119.3" text-anchor="end" font-size="21.5">30</text><text x="56" y="15.2" text-anchor="end" font-size="21.5">40</text><text x="68.4" y="451.1" text-anchor="middle" font-size="21.5">0</text><text x="269.6" y="451.1" text-anchor="middle" font-size="21.5">10</text><text x="470.8" y="451.1" text-anchor="middle" font-size="21.5">20</text><text x="672.0" y="451.1" text-anchor="middle" font-size="21.5">30</text><text x="319.9" y="470.5" font-size="21.5">Time (min)</text><text transform="translate(15.0,355.6) rotate(-90)" font-size="21.4">PhycoE:Cy5 FRET (% of max)</text><text x="502.0" y="161.7" font-size="28.5">Ypt7:GTP (</text><text x="660" y="161.7" font-size="28.5">)</text><text x="502.4" y="198.6" font-size="28.5">Ypt7:GDP (</text><text x="666" y="198.6" font-size="28.5">)</text><text x="455.4" y="341.7" font-size="28.5">no Ypt7 (</text><text x="588.5" y="341.7" font-size="28.5">)</text><text x="455.4" y="375.9" font-size="28.5">no HOPS (</text><text x="668" y="375.9" font-size="28.5">)</text></g>
<g><circle cx="650.4" cy="153.8" r="6.3" fill="#111"/><polygon points="656.1,185.1 663.6,198.9 648.6,198.9" fill="#111"/><polygon points="578.1,325.2 586.3,333.4 578.1,341.6 569.9,333.4" fill="#111"/><g fill="none" stroke="#9a9a9a" stroke-width="3.4"><circle cx="601.6" cy="368.1" r="6.0"/><polygon points="628.7,361.2 636.7,375.6 620.7,375.6"/><polygon points="657.3,362 665.2,369 657.3,376 649.4,369"/></g></g>
</svg>
</body></html>
